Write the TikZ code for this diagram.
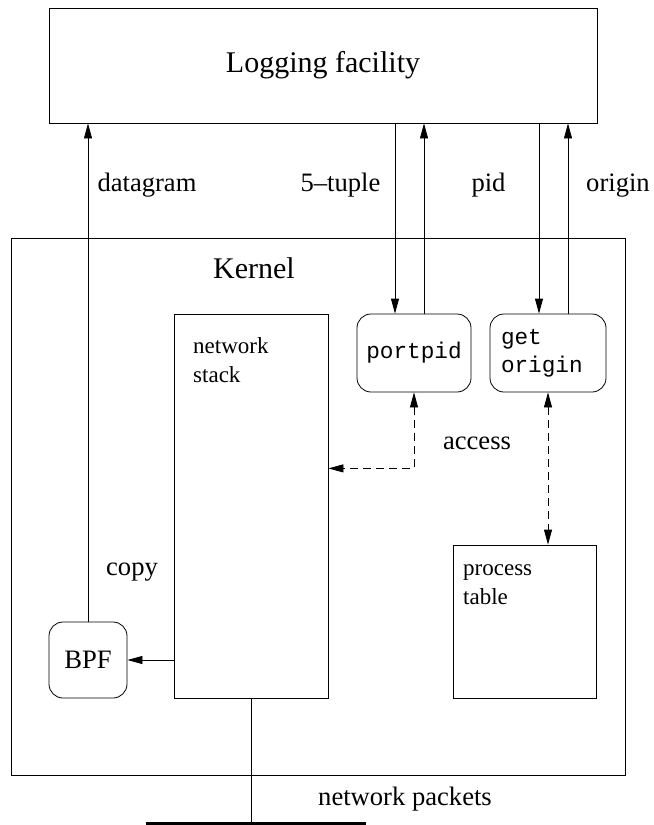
\documentclass[tikz,border=0pt]{standalone}
\usepackage{fontspec}
\setmainfont{Liberation Serif}
\setmonofont{Liberation Mono}
\usetikzlibrary{arrows.meta,positioning,calc}
\tikzset{plain box/.style={draw,line width=0.8bp,inner sep=0pt},
         round box/.style={plain box,rounded corners=14bp},
         flow/.style={line width=0.8bp,-{Triangle[length=15bp,width=8bp]}},
         access flow/.style={line width=0.8bp,dash pattern=on 8bp off 5bp,
                             {Triangle[length=15bp,width=8bp]}-{Triangle[length=15bp,width=8bp]}}}
\tikzset{big text/.style={font=\fontsize{30bp}{36bp}\selectfont},
         tag text/.style={font=\fontsize{26.6bp}{32bp}\selectfont},
         inner text/.style={font=\fontsize{23bp}{29bp}\selectfont,inner sep=0pt,text width=110bp,align=left},
         code text/.style={font=\fontsize{22.7bp}{28bp}\selectfont\ttfamily}}

\begin{document}
\begin{tikzpicture}[x=1bp,y=-1bp]
        \useasboundingbox (0,0) rectangle (654,825);
        %
        % boxes
        \node[plain box,big text,minimum width=548bp,minimum height=115bp] (logging) at (323,65.5) {Logging facility};
        \node[plain box,minimum width=614bp,minimum height=537bp] (kernel) at (318,506.5) {};
        \node[big text,anchor=base] (kerneltext) at (254,278) {Kernel};
        \node[plain box,minimum width=154bp,minimum height=384bp] (stack) at (251,506) {};
        \node[inner text,anchor=base west] (stacktext) at (193,353) {network\\stack};
        \node[round box,code text,minimum width=114bp,minimum height=78bp] (portpid) at (414,353) {portpid};
        \node[round box,code text,inner xsep=11bp,text width=94bp,align=left,minimum height=78bp] (getorigin) at (548,353) {get\\origin};
        \node[plain box,minimum width=143bp,minimum height=153bp] (ptable) at (524.5,621.5) {};
        \node[inner text,anchor=base west] (ptabletext) at (463,575) {process\\table};
        \node[round box,tag text,minimum width=78bp,minimum height=76bp] (bpf) at (88,660) {BPF};
        %
        % helper points
        \coordinate (pp down) at ($(portpid.north)+(-19,0)$);
        \coordinate (pp up) at ($(portpid.north)+(10,0)$);
        \coordinate (go down) at ($(getorigin.north)+(-9,0)$);
        \coordinate (go up) at ($(getorigin.north)+(20,0)$);
        \coordinate (bend) at ($(portpid.south)+(0,76)$);
        \coordinate (bar) at (251,824.5);
        %
        % connectors
        \draw[flow] (pp down |- logging.south) -- (pp down);
        \draw[flow] (pp up) -- (pp up |- logging.south);
        \draw[flow] (go down |- logging.south) -- (go down);
        \draw[flow] (go up) -- (go up |- logging.south);
        \draw[flow] (bpf.north) -- (bpf.north |- logging.south);
        \draw[flow] (bpf.east -| stack.west) -- (bpf.east);
        \draw[access flow] (portpid.south) |- (bend -| stack.east);
        \draw[access flow] (getorigin.south) -- (getorigin.south |- ptable.north);
        \draw[line width=0.8bp] (stack.south) -- (stack.south |- bar);
        \draw[line width=5bp] ($(bar)+(-105,0)$) -- ($(bar)+(115,0)$);
        %
        % labels
        \node[tag text,anchor=base] (datagram) at (147,191) {datagram};
        \node[tag text,anchor=base] (tuple) at (340.5,191) {5--tuple};
        \node[tag text,anchor=base] (pid) at (488.5,191) {pid};
        \node[tag text,anchor=base] (origin) at (618,191) {origin};
        \node[tag text,anchor=base] (copy) at (132,575) {copy};
        \node[tag text,anchor=base] (access) at (477,449) {access};
        \node[tag text,anchor=base] (packets) at (405,805) {network packets};
\end{tikzpicture}
\end{document}
